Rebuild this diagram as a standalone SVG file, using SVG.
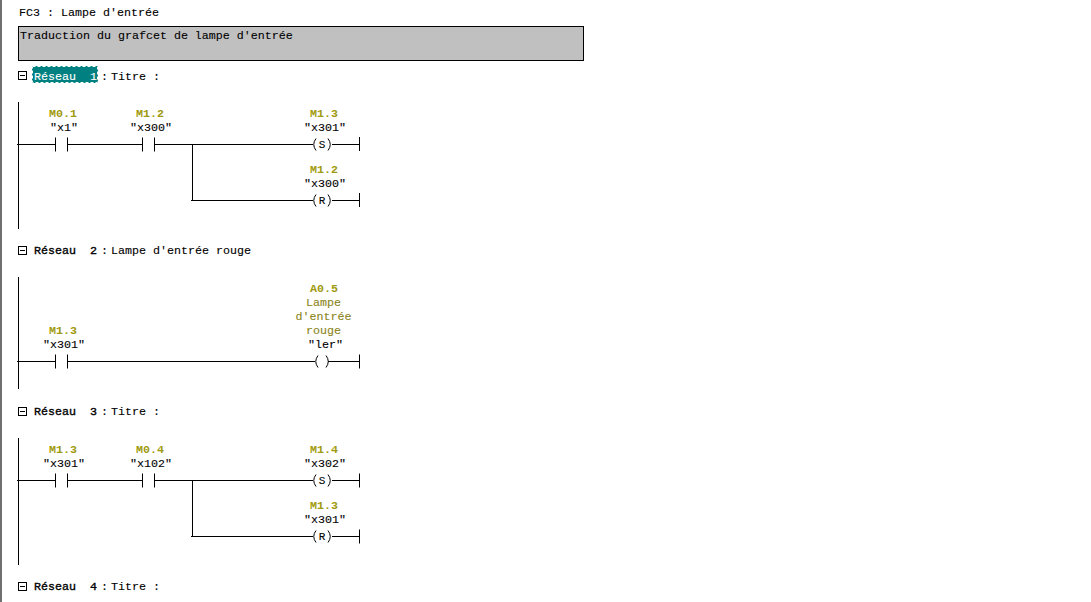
<svg xmlns="http://www.w3.org/2000/svg" width="1091" height="602" viewBox="0 0 1091 602">
<style>
text{font-family:"Liberation Mono","Courier New",monospace;font-size:11.67px;fill:#000;stroke:#000;stroke-width:.1px;white-space:pre}
.a{font-weight:bold;fill:#a09a10;stroke:none;text-anchor:middle}
.c{fill:#8a8420;stroke:#8a8420;text-anchor:middle}
.s{text-anchor:middle}
.h{stroke-width:.35px}
.l{font-size:11px;text-anchor:middle}
.w{stroke:#000;stroke-width:1;fill:none}
</style>
<defs>
<g id="contact" class="w"><path d="M55.5 -7V7M67.5 -7V7"/></g>
<g id="minus"><rect x="18.5" y="-7.5" width="8" height="8" fill="#fff" stroke="#000"/><path d="M20 -3.5H25" stroke="#000"/></g>
</defs>
<rect x="0" y="0" width="1091" height="602" fill="#fff"/>
<rect x="0" y="0" width="2" height="602" fill="#707070"/>
<g id="header">
<text x="19" y="16">FC3 : Lampe d'entrée</text>
<rect x="18.5" y="26.5" width="565" height="34" fill="#c0c0c0" stroke="#000"/>
<text x="20" y="39">Traduction du grafcet de lampe d'entrée</text>
</g>
<g id="reseau1-title">
<use href="#minus" y="79"/>
<rect x="32" y="66" width="66" height="17" fill="#008080"/>
<rect x="32.500" y="66.500" width="65" height="16" fill="none" stroke="#fff" stroke-dasharray="3 2"/>
<text x="34" y="80" class="h" style="fill:#fff;stroke:#fff;stroke-width:.1px">Réseau  1</text>
<text x="101" y="80">:</text><text x="111" y="80">Titre :</text>
</g>
<g id="connectors" class="w">
<path d="M17 144.500H55M67 144.500H143M155 144.500H313M192.500 144.500V200.500M191 200.500H313M332 144.500H359M332 200.500H359M359.500 137V151M359.500 193V207M18.500 102V229"/>
<path d="M18.500 277V389M17 361.500H55M67 361.500H315M328 361.500H359M359.500 354.500V368.500"/>
<path d="M18.500 438V565M17 480.500H55M67 480.500H143M155 480.500H313M192.500 480.500V536.500M191 536.500H313M332 480.500H359M332 536.500H359M359.500 473.500V487.500M359.500 529.500V543.500"/>
</g>
<g id="n1-contact1"><use href="#contact" y="144.500"/><text class="a" x="63" y="117">M0.1</text><text class="s" x="64" y="131">"x1"</text></g>
<g id="n1-contact2"><use href="#contact" x="87" y="144.500"/><text class="a" x="150" y="117">M1.2</text><text class="s" x="151" y="131">"x300"</text></g>
<g id="n1-coil-s"><path class="w" d="M316 138.500Q311.500 144.500 316 150.500M328 138.500Q332.500 144.500 328 150.500"/><text class="l" x="322" y="148">S</text><text class="a" x="324" y="117">M1.3</text><text class="s" x="325" y="131">"x301"</text></g>
<g id="n1-coil-r"><path class="w" d="M316 194.500Q311.500 200.500 316 206.500M328 194.500Q332.500 200.500 328 206.500"/><text class="l" x="322" y="204">R</text><text class="a" x="324" y="173">M1.2</text><text class="s" x="325" y="187">"x300"</text></g>
<g id="reseau2-title"><use href="#minus" y="254"/><text x="34" y="254" class="h">Réseau  2</text><text x="101" y="254">:</text><text x="111" y="254">Lampe d'entrée rouge</text></g>
<g id="n2-contact"><use href="#contact" y="361.500"/><text class="a" x="63" y="334">M1.3</text><text class="s" x="64" y="348">"x301"</text></g>
<g id="n2-coil"><path class="w" d="M318 355.500Q313.500 361.500 318 367.500M326 355.500Q330.500 361.500 326 367.500"/><text class="a" x="324" y="292">A0.5</text><text class="c" x="323.500" y="306">Lampe</text><text class="c" x="323.500" y="320">d'entrée</text><text class="c" x="323.500" y="334">rouge</text><text class="s" x="325.500" y="348">"ler"</text></g>
<g id="reseau3-title"><use href="#minus" y="415"/><text x="34" y="415" class="h">Réseau  3</text><text x="101" y="415">:</text><text x="111" y="415">Titre :</text></g>
<g id="n3-contact1"><use href="#contact" y="480.500"/><text class="a" x="63" y="453">M1.3</text><text class="s" x="64" y="467">"x301"</text></g>
<g id="n3-contact2"><use href="#contact" x="87" y="480.500"/><text class="a" x="150" y="453">M0.4</text><text class="s" x="151" y="467">"x102"</text></g>
<g id="n3-coil-s"><path class="w" d="M316 474.500Q311.500 480.500 316 486.500M328 474.500Q332.500 480.500 328 486.500"/><text class="l" x="322" y="484">S</text><text class="a" x="324" y="453">M1.4</text><text class="s" x="325" y="467">"x302"</text></g>
<g id="n3-coil-r"><path class="w" d="M316 530.500Q311.500 536.500 316 542.500M328 530.500Q332.500 536.500 328 542.500"/><text class="l" x="322" y="540">R</text><text class="a" x="324" y="509">M1.3</text><text class="s" x="325" y="523">"x301"</text></g>
<g id="reseau4-title"><use href="#minus" y="590"/><text x="34" y="590" class="h">Réseau  4</text><text x="101" y="590">:</text><text x="111" y="590">Titre :</text></g>
</svg>
